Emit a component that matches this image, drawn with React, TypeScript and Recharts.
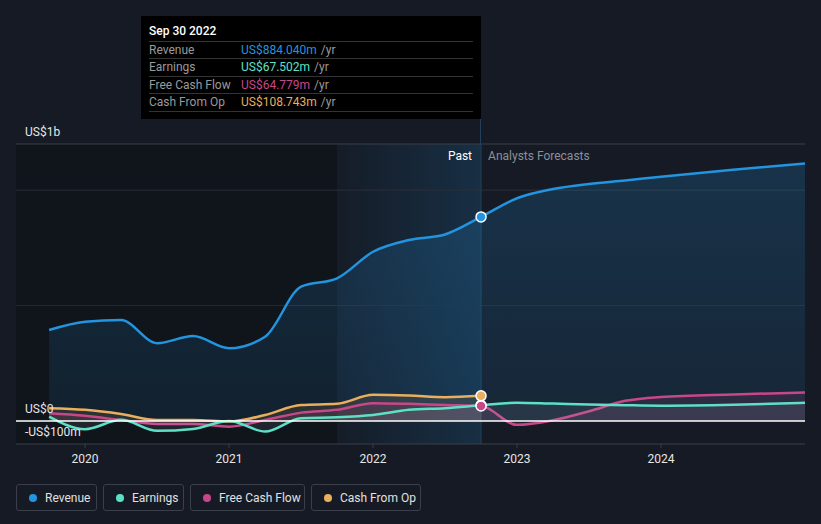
import { ComposedChart, Area, XAxis, YAxis, ReferenceLine, ReferenceArea, ReferenceDot } from 'recharts'

// quarter ends, in decimal years
const pastDates = [2019.75, 2020, 2020.25, 2020.5, 2020.75, 2021, 2021.25, 2021.5, 2021.75, 2022, 2022.25, 2022.5, 2022.75]
const forecastDates = [2023, 2023.25, 2023.5, 2023.75, 2024, 2024.5, 2025]

// US$ millions, trailing twelve months
const revenuePast = [394, 430, 437, 337, 368, 315, 365, 582, 618, 733, 784, 808, 884.04]
const revenueForecast = [965, 1005, 1027, 1042, 1058, 1088, 1116]
const earningsPast = [19, -36, 5, -43, -35, 0, -46, 12, 16, 26, 48, 55, 67.502]
const earningsForecast = [79, 75, 71, 68, 66, 70, 79]
const fcfPast = [33, 22, 4, -13, -13, -25, 4, 36, 48, 77, 74, 69, 64.779]
const fcfForecast = [-17, 3, 42, 87, 104, 115, 123]
const cfoPast = [55, 48, 30, 4, 4, -3, 26, 69, 74, 113, 110, 103, 108.743]

const yearTicks = [2020, 2021, 2022, 2023, 2024]
const yTickValues = [-100, 0, 1200]
const yTickLabels = ['-US$100m', 'US$0', 'US$1b']

const pastEnd = 2022.75
const highlightStart = 2021.75

const COLORS = {
  revenue: '#2394df',
  earnings: '#5ee0c6',
  fcf: '#c8478b',
  cfo: '#e9ae5e',
}

const legendItems = [
  { key: 'revenue', label: 'Revenue', width: 81 },
  { key: 'earnings', label: 'Earnings', width: 81 },
  { key: 'fcf', label: 'Free Cash Flow', width: 115 },
  { key: 'cfo', label: 'Cash From Op', width: 110 },
] as const

const tooltipRows = [
  { label: 'Revenue', value: 'US$884.040m', color: COLORS.revenue },
  { label: 'Earnings', value: 'US$67.502m', color: COLORS.earnings },
  { label: 'Free Cash Flow', value: 'US$64.779m', color: COLORS.fcf },
  { label: 'Cash From Op', value: 'US$108.743m', color: COLORS.cfo },
]

const data = [
  ...pastDates.map((d, i) => ({
    date: d,
    revenue: revenuePast[i],
    earnings: earningsPast[i],
    fcf: fcfPast[i],
    cfo: cfoPast[i],
  })),
  ...forecastDates.map((d, i) => ({
    date: d,
    revenue: revenueForecast[i],
    earnings: earningsForecast[i],
    fcf: fcfForecast[i],
  })),
]

const FONT = 'Roboto, "Noto Sans", sans-serif'

function YLabel({ viewBox, text }: any) {
  const y = viewBox?.y ?? 0
  return (
    <text x={25} y={y - 12} dominantBaseline="central" fill="#e6e6e6" fontSize={12} fontFamily={FONT}>
      {text}
    </text>
  )
}

function PastLabel({ viewBox }: any) {
  const x = viewBox?.x ?? 0
  return (
    <g fontFamily={FONT} fontSize={12}>
      <text x={x - 9} y={156} textAnchor="end" dominantBaseline="central" fill="#ffffff">Past</text>
      <text x={x + 7} y={156} dominantBaseline="central" fill="#8b9099">Analysts Forecasts</text>
    </g>
  )
}

export default function App() {
  return (
    <div style={{ position: 'absolute', top: 0, left: 0, width: 821, height: 524, background: '#151a24', fontFamily: FONT }}>
      <ComposedChart width={821} height={524} data={data} margin={{ top: 144, right: 16, bottom: 50, left: 16 }}>
        <defs>
          <linearGradient id="bandGrad" x1="0" y1="0" x2="1" y2="0">
            <stop offset="0%" stopColor="#2394df" stopOpacity={0.02} />
            <stop offset="100%" stopColor="#2394df" stopOpacity={0.17} />
          </linearGradient>
          <linearGradient id="revGrad" x1="0" y1="0" x2="0" y2="1">
            <stop offset="0%" stopColor="#2394df" stopOpacity={0.2} />
            <stop offset="100%" stopColor="#2394df" stopOpacity={0.1} />
          </linearGradient>
        </defs>
        <ReferenceArea x1={2019.52} x2={highlightStart} y1={-100} y2={1200} fill="#10141b" fillOpacity={1} stroke="none" zIndex={-300} />
        <ReferenceArea x1={highlightStart} x2={pastEnd} y1={-100} y2={1200} fill="url(#bandGrad)" fillOpacity={1} stroke="none" zIndex={-250} />
        <ReferenceLine y={1200} stroke="#3b3f47" strokeWidth={1} zIndex={-200} />
        <ReferenceLine y={1000} stroke="#2b3039" strokeWidth={1} zIndex={-200} />
        <ReferenceLine y={500} stroke="#262b33" strokeWidth={1} zIndex={-200} />
        <XAxis
          dataKey="date"
          type="number"
          domain={[2019.52, 2025]}
          ticks={yearTicks}
          allowDataOverflow
          height={30}
          tickSize={4}
          tickMargin={6}
          stroke="#3a3f48"
          tick={{ fill: '#e6e6e6', fontSize: 12, fontFamily: FONT }}
          tickFormatter={(v: number) => String(v)}
        />
        <YAxis type="number" domain={[-100, 1200]} ticks={yTickValues} allowDataOverflow width={0} hide />
        <Area type="monotone" dataKey="revenue" stroke={COLORS.revenue} strokeWidth={2.5} fill="url(#revGrad)" fillOpacity={1} isAnimationActive={false} dot={false} activeDot={false} />
        <Area type="monotone" dataKey="cfo" stroke={COLORS.cfo} strokeWidth={2.5} fill={COLORS.cfo} fillOpacity={0.12} isAnimationActive={false} dot={false} activeDot={false} />
        <Area type="monotone" dataKey="fcf" stroke={COLORS.fcf} strokeWidth={2.5} fill={COLORS.fcf} fillOpacity={0.12} isAnimationActive={false} dot={false} activeDot={false} />
        <Area type="monotone" dataKey="earnings" stroke={COLORS.earnings} strokeWidth={2.5} fill="#b8c4cc" fillOpacity={0.1} isAnimationActive={false} dot={false} activeDot={false} />
        <ReferenceLine y={0} stroke="#ffffff" strokeWidth={1.5} zIndex={450} />
        <ReferenceLine x={pastEnd} stroke="#21405c" strokeWidth={1} zIndex={-150} label={<PastLabel />} />
        {yTickValues.map((v, i) => (
          <ReferenceLine key={v} y={v} stroke="none" strokeOpacity={0} zIndex={800} label={<YLabel text={yTickLabels[i]} />} />
        ))}
        <ReferenceDot x={pastEnd} y={earningsPast[12]} r={5} fill={COLORS.earnings} stroke="#ffffff" strokeWidth={1.5} zIndex={700} />
        <ReferenceDot x={pastEnd} y={fcfPast[12]} r={5} fill={COLORS.fcf} stroke="#ffffff" strokeWidth={1.5} zIndex={700} />
        <ReferenceDot x={pastEnd} y={cfoPast[12]} r={5} fill={COLORS.cfo} stroke="#ffffff" strokeWidth={1.5} zIndex={700} />
        <ReferenceDot x={pastEnd} y={revenuePast[12]} r={5} fill={COLORS.revenue} stroke="#ffffff" strokeWidth={1.5} zIndex={700} />
      </ComposedChart>

      {/* line from the tooltip down to the plot */}
      <div style={{ position: 'absolute', left: 480, top: 119, width: 1, height: 26, background: '#21405c' }} />

      {/* tooltip */}
      <div style={{ position: 'absolute', left: 141, top: 16, width: 340, height: 103, background: '#000', boxSizing: 'border-box', padding: '0 8px' }}>
        <div style={{ height: 25, lineHeight: '30px', color: '#fff', fontSize: 12, fontWeight: 500 }}>Sep 30 2022</div>
        {tooltipRows.map((r) => (
          <div key={r.label} style={{ display: 'flex', boxSizing: 'border-box', height: 17.4, lineHeight: '16px', fontSize: 12, borderTop: '1px solid #333', width: 324 }}>
            <span style={{ width: 92, color: '#9a9a9a' }}>{r.label}</span>
            <span style={{ color: r.color }}>{r.value}</span>
            <span style={{ color: '#9a9a9a', marginLeft: 4 }}>/yr</span>
          </div>
        ))}
        <div style={{ borderTop: '1px solid #333', width: 324 }} />
      </div>

      {/* legend */}
      <div style={{ position: 'absolute', left: 16, top: 484, display: 'flex', gap: 6 }}>
        {legendItems.map((it) => (
          <div key={it.key} style={{ width: it.width, height: 27, boxSizing: 'border-box', border: '1px solid #3a3f4a', borderRadius: 3, display: 'flex', alignItems: 'center', paddingLeft: 12 }}>
            <span style={{ width: 8, height: 8, borderRadius: 4, background: COLORS[it.key], marginRight: 8 }} />
            <span style={{ color: '#e0e0e0', fontSize: 12 }}>{it.label}</span>
          </div>
        ))}
      </div>
    </div>
  )
}
